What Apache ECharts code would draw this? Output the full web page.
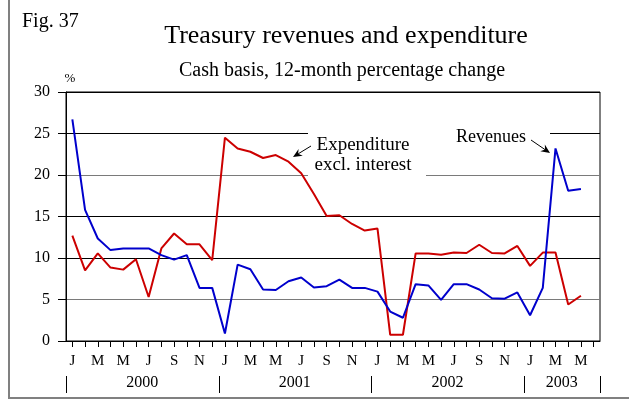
<!DOCTYPE html>
<html>
<head>
<meta charset="utf-8">
<title>Treasury revenues and expenditure</title>
<script src="https://cdn.jsdelivr.net/npm/echarts@6.0.0/dist/echarts.min.js"></script>
<style>
  html, body { margin: 0; padding: 0; background: #fff; }
  #chart { width: 629px; height: 400px; }
</style>
</head>
<body>
<div id="chart"></div>
<script>
// Monthly 12-month percentage changes, Jan 2000 - May 2003 (cash basis)
const years = ['2000', '2001', '2002', '2003'];
const monthLetters = ['J', 'F', 'M', 'A', 'M', 'J', 'J', 'A', 'S', 'O', 'N', 'D'];
const slotCount = 42; // Jan 2000 .. Jun 2003

const revenues = [
  26.7, 15.8, 12.35, 10.95, 11.15, 11.15, 11.15, 10.35, 9.8, 10.35, 6.4, 6.4,
  0.9, 9.2, 8.65, 6.2, 6.15, 7.2, 7.65, 6.45, 6.6, 7.4, 6.4, 6.4,
  5.95, 3.55, 2.8, 6.85, 6.7, 4.95, 6.85, 6.85, 6.2, 5.15, 5.1, 5.85,
  3.1, 6.4, 23.2, 18.1, 18.3
];
const expenditure = [
  12.7, 8.5, 10.55, 8.85, 8.6, 9.85, 5.3, 11.15, 12.95, 11.65, 11.65, 9.75,
  24.5, 23.2, 22.8, 22.05, 22.4, 21.6, 20.2, 17.7, 15.05, 15.15, 14.1, 13.3,
  13.55, 0.75, 0.75, 10.55, 10.55, 10.4, 10.65, 10.6, 11.6, 10.6, 10.55, 11.45,
  9.05, 10.65, 10.65, 4.4, 5.45
];

const categories = [];
for (let i = 0; i < slotCount; i++) {
  categories.push(years[Math.floor(i / 12)] + '-' + monthLetters[i % 12] + (i % 12 + 1));
}

const FONT = "'Liberation Serif', 'Times New Roman', serif";

function arrow(tail, tip) {
  const dx = tip[0] - tail[0], dy = tip[1] - tail[1];
  const len = Math.sqrt(dx * dx + dy * dy);
  const ux = dx / len, uy = dy / len;
  const px = -uy, py = ux;
  const headLen = 9, headW = 4, notch = 6;
  const b1 = [tip[0] - ux * headLen + px * headW, tip[1] - uy * headLen + py * headW];
  const b2 = [tip[0] - ux * headLen - px * headW, tip[1] - uy * headLen - py * headW];
  const n = [tip[0] - ux * notch, tip[1] - uy * notch];
  return [
    { type: 'line', z: 5, shape: { x1: tail[0], y1: tail[1], x2: n[0], y2: n[1] },
      style: { stroke: '#000', lineWidth: 1 } },
    { type: 'polygon', z: 5, shape: { points: [tip, b1, n, b2] },
      style: { fill: '#000' } }
  ];
}

const staticGraphics = [
  // outer frame
  { type: 'polyline', z: 5, shape: { points: [[9, 0], [9, 398], [629, 398]] },
    style: { stroke: '#808080', lineWidth: 2, fill: null } },
  { type: 'text', z: 5, style: { text: 'Fig. 37', x: 22, y: 22, font: '20px ' + FONT,
    fill: '#000', textAlign: 'left', textVerticalAlign: 'middle' } },
  { type: 'text', z: 5, style: { text: 'Treasury revenues and expenditure', x: 346, y: 36,
    font: '26px ' + FONT, fill: '#000', textAlign: 'center', textVerticalAlign: 'middle' } },
  { type: 'text', z: 5, style: { text: 'Cash basis, 12-month percentage change', x: 342, y: 71,
    font: '20px ' + FONT, fill: '#000', textAlign: 'center', textVerticalAlign: 'middle' } },
  { type: 'text', z: 5, style: { text: '%', x: 70, y: 79, font: '13px ' + FONT,
    fill: '#000', textAlign: 'center', textVerticalAlign: 'middle' } },
  // clear space behind the annotations
  { type: 'rect', z: 1, shape: { x: 308, y: 129, width: 242, height: 9 },
    style: { fill: '#fff' } },
  { type: 'rect', z: 1, shape: { x: 308, y: 171, width: 118, height: 8 },
    style: { fill: '#fff' } },
  { type: 'text', z: 5, style: { text: 'Expenditure', x: 363, y: 145,
    font: '19px ' + FONT, fill: '#000', textAlign: 'center', textVerticalAlign: 'middle' } },
  { type: 'text', z: 5, style: { text: 'excl. interest', x: 363, y: 165,
    font: '19px ' + FONT, fill: '#000', textAlign: 'center', textVerticalAlign: 'middle' } },
  { type: 'text', z: 5, style: { text: 'Revenues', x: 456, y: 137,
    font: '18px ' + FONT, fill: '#000', textAlign: 'left', textVerticalAlign: 'middle' } }
].concat(arrow([311, 146], [293, 157])).concat(arrow([531, 140], [550, 153]));

const chart = echarts.init(document.getElementById('chart'));
chart.setOption({
  animation: false,
  grid: {
    left: 66, right: 29, top: 92, bottom: 59,
    show: true, borderColor: '#000', borderWidth: 1, backgroundColor: 'transparent'
  },
  xAxis: {
    type: 'category',
    data: categories,
    boundaryGap: true,
    axisLine: { show: true, onZero: false, lineStyle: { color: '#000', width: 1 } },
    axisTick: { show: true, inside: false, interval: 0, alignWithLabel: true, length: 6,
                lineStyle: { color: '#000', width: 1 } },
    axisLabel: {
      interval: 1, margin: 13, color: '#000', fontFamily: FONT, fontSize: 15,
      formatter: function (v, idx) { return monthLetters[idx % 12]; }
    },
    splitLine: { show: false }
  },
  yAxis: {
    type: 'value',
    min: 0, max: 30, interval: 5,
    axisLine: { show: true, lineStyle: { color: '#000' } },
    axisTick: { show: true, length: 8, lineStyle: { color: '#000' } },
    axisLabel: { margin: 16, color: '#000', fontFamily: FONT, fontSize: 16 },
    splitLine: {
      show: true,
      lineStyle: { color: ['#000', '#7a7a7a', '#000', '#000', '#7a7a7a', '#000', '#000'], width: 1 }
    }
  },
  series: [
    {
      name: 'Expenditure excl. interest',
      type: 'line',
      data: expenditure,
      symbol: 'none',
      z: 3,
      lineStyle: { color: '#cc0000', width: 2 }
    },
    {
      name: 'Revenues',
      type: 'line',
      data: revenues,
      symbol: 'none',
      z: 4,
      lineStyle: { color: '#0000cc', width: 2 }
    }
  ],
  graphic: staticGraphics
});

// Year separators and year labels under the month axis, placed with the category scale
const c0 = chart.convertToPixel({ xAxisIndex: 0 }, 0);
const c1 = chart.convertToPixel({ xAxisIndex: 0 }, 1);
const half = (c1 - c0) / 2;
const yearGraphics = [];
const sepTop = 376, sepBottom = 393, yearY = 383;
years.forEach(function (label, k) {
  const first = k * 12;
  const last = Math.min(first + 11, slotCount - 1);
  const xs = chart.convertToPixel({ xAxisIndex: 0 }, first) - half;
  const xe = chart.convertToPixel({ xAxisIndex: 0 }, last) + half;
  const sx = Math.round(xs) + 0.5;
  yearGraphics.push({ type: 'line', z: 5, shape: { x1: sx, y1: sepTop, x2: sx, y2: sepBottom },
    style: { stroke: '#000', lineWidth: 1 } });
  yearGraphics.push({ type: 'text', z: 5, style: { text: label, x: (xs + xe) / 2, y: yearY,
    font: '16px ' + FONT, fill: '#000', textAlign: 'center', textVerticalAlign: 'middle' } });
  if (k === years.length - 1) {
    const ex = Math.round(xe) + 0.5;
    yearGraphics.push({ type: 'line', z: 5, shape: { x1: ex, y1: sepTop, x2: ex, y2: sepBottom },
      style: { stroke: '#000', lineWidth: 1 } });
  }
});
chart.setOption({ graphic: staticGraphics.concat(yearGraphics) }, { replaceMerge: ['graphic'] });
</script>
</body>
</html>
